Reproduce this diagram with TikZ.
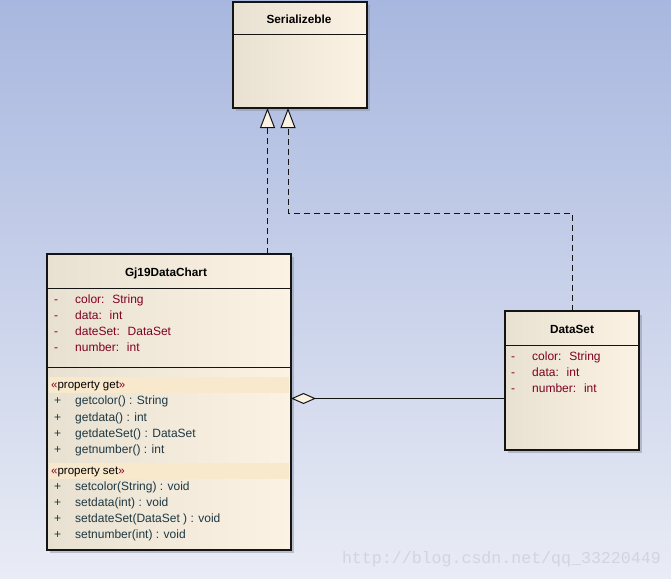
\documentclass[tikz,border=0pt]{standalone}
\usepackage{fontspec}
\setmainfont{Liberation Sans}
\newfontfamily\wmfont{Liberation Mono}
\usetikzlibrary{arrows.meta,calc}
\definecolor{bgtop}{RGB}{168,183,223}
\definecolor{bgbot}{RGB}{233,236,245}
\definecolor{boxl}{RGB}{232,225,210}
\definecolor{boxr}{RGB}{252,242,227}
\definecolor{band}{RGB}{248,232,204}
\definecolor{attrc}{RGB}{128,0,32}
\definecolor{methc}{RGB}{30,56,66}
\definecolor{linec}{RGB}{20,20,20}
\definecolor{shadc}{RGB}{140,146,160}
\definecolor{wmc}{RGB}{210,213,220}
\tikzset{
  classbox/.style={draw=linec, line width=1.1bp, left color=boxl, right color=boxr,
    inner sep=0pt, outer sep=0pt, anchor=north west},
  divider/.style={draw=linec, line width=1bp},
  txt/.style={inner sep=0pt, text height=8.6bp, text depth=2.4bp},
  ctitle/.style={txt, font=\fontsize{11.8bp}{13bp}\selectfont\bfseries, text=black},
  attr/.style={txt, font=\fontsize{12bp}{13bp}\selectfont, text=attrc, anchor=west},
  meth/.style={txt, font=\fontsize{12bp}{13bp}\selectfont, text=methc, anchor=west},
  stereo/.style={txt, font=\fontsize{11.5bp}{13bp}\selectfont, text=black, anchor=west},
  realize/.style={draw=linec, line width=1bp, dash pattern=on 6bp off 4bp,
    -{Triangle[open, length=20bp, width=15bp, fill=boxr]}},
  aggr/.style={draw=linec, line width=1bp,
    -{Diamond[open, length=25bp, width=11bp, fill=boxr]}},
}
\begin{document}
\begin{tikzpicture}[x=1bp, y=-1bp]
\useasboundingbox (0,0) rectangle (671,579);
\shade[top color=bgtop, bottom color=bgbot] (0,0) rectangle (671,579);
% shadows
\fill[shadc, opacity=0.5] (236,5) rectangle (370,111);
\fill[shadc, opacity=0.5] (50,257) rectangle (294,553);
\fill[shadc, opacity=0.5] (508,315) rectangle (642,453);
% Serializeble
\node[classbox, minimum width=134bp, minimum height=106bp] (ser) at (233,2) {};
\draw[divider] ($(ser.north west)+(0,33)$) -- ($(ser.north east)+(0,33)$);
\node[ctitle] (sert) at (299,20) {Serializeble};
% Gj19DataChart
\node[classbox, minimum width=244bp, minimum height=296bp] (gj) at (47,254) {};
\draw[divider] ($(gj.north west)+(0,34)$) -- ($(gj.north east)+(0,34)$);
\draw[divider] ($(gj.north west)+(0,113)$) -- ($(gj.north east)+(0,113)$);
\fill[band] (49,377) rectangle (289,393);
\fill[band] (49,463) rectangle (289,479);
\node[ctitle] (gjt) at (166,273) {Gj19DataChart};
\foreach \y/\t [count=\i] in {300/{color:~ String}, 316/{data:~ int}, 332/{dateSet:~ DataSet}, 348/{number:~ int}} {
  \node[attr] (gjv\i) at (54,\y) {-};
  \node[attr] (gja\i) at (75,\y) {\t};
}
\node[stereo] (gjs1) at (51,385) {\textcolor{attrc}{«}property get\textcolor{attrc}{»}};
\foreach \y/\t [count=\i] in {401/{getcolor() : String}, 418/{getdata() : int}, 434/{getdateSet() : DataSet}, 450/{getnumber() : int}} {
  \node[meth] (gjp\i) at (54,\y) {+};
  \node[meth] (gjm\i) at (75,\y) {\t};
}
\node[stereo] (gjs2) at (51,471) {\textcolor{attrc}{«}property set\textcolor{attrc}{»}};
\foreach \y/\t [count=\i] in {487/{setcolor(String) : void}, 503/{setdata(int) : void}, 519/{setdateSet(DataSet ) : void}, 535/{setnumber(int) : void}} {
  \node[meth] (gjq\i) at (54,\y) {+};
  \node[meth] (gjn\i) at (75,\y) {\t};
}
% DataSet
\node[classbox, minimum width=134bp, minimum height=139bp] (ds) at (505,311) {};
\draw[divider] ($(ds.north west)+(0,34)$) -- ($(ds.north east)+(0,34)$);
\node[ctitle] (dst) at (572,330) {DataSet};
\foreach \y/\t [count=\i] in {357/{color:~ String}, 373/{data:~ int}, 389/{number:~ int}} {
  \node[attr] (dsv\i) at (511,\y) {-};
  \node[attr] (dsa\i) at (532,\y) {\t};
}
% connectors
\coordinate (lx) at (267.5,0);
\coordinate (rx) at (288,0);
\coordinate (dx) at (572,0);
\coordinate (hy) at (0,213);
\coordinate (ay) at (0,398.5);
\draw[realize] (gj.north -| lx) -- (ser.south -| lx);
\draw[realize] (ds.north -| dx) -- (dx |- hy) -- (rx |- hy) -- (ser.south -| rx);
\draw[aggr] (ds.west |- ay) -- (gj.east |- ay);
% watermark
\node[font=\wmfont\fontsize{16.6bp}{18bp}\selectfont, text=wmc, anchor=east, inner sep=0pt] (wm) at (661,559) {http://blog.csdn.net/qq\_33220449};
\end{tikzpicture}
\end{document}
